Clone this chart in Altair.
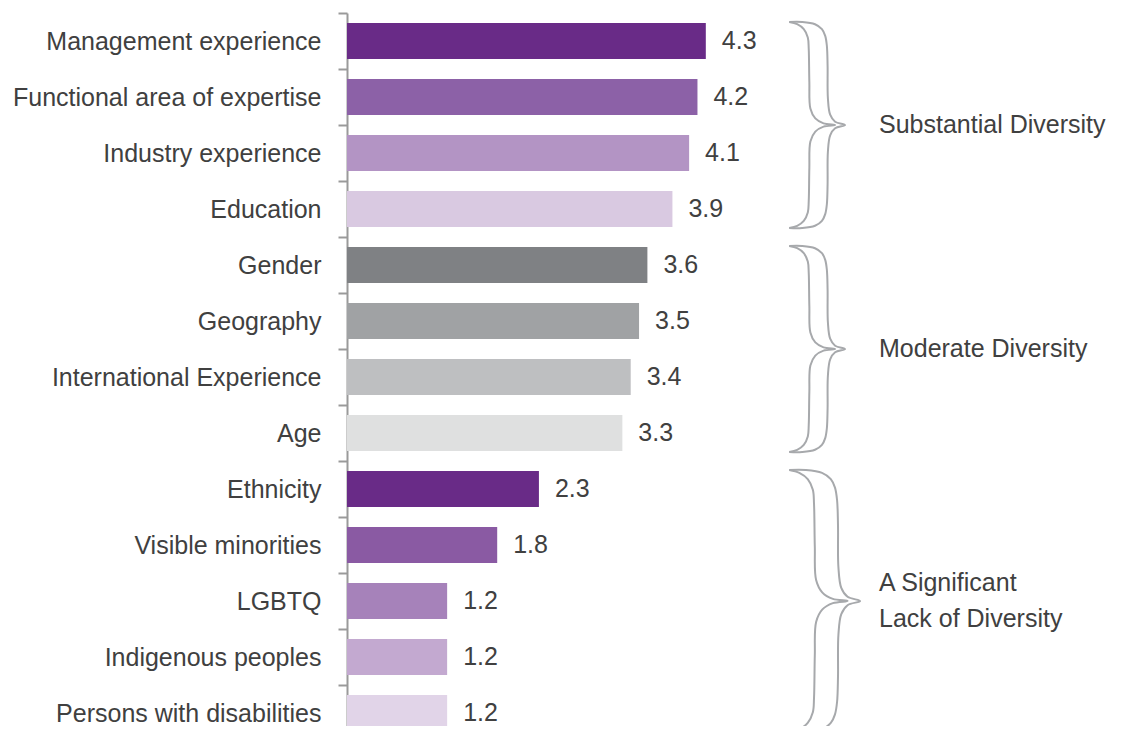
import altair as alt
import pandas as pd

categories = [
    "Management experience", "Functional area of expertise", "Industry experience", "Education",
    "Gender", "Geography", "International Experience", "Age",
    "Ethnicity", "Visible minorities", "LGBTQ", "Indigenous peoples", "Persons with disabilities",
]
values = [4.3, 4.2, 4.1, 3.9, 3.6, 3.5, 3.4, 3.3, 2.3, 1.8, 1.2, 1.2, 1.2]
colors = [
    "#692B87", "#8C61A7", "#B394C4", "#D9C9E1",
    "#7F8184", "#A0A2A4", "#BEBFC1", "#DFE0E0",
    "#692B87", "#8A5AA3", "#A682BA", "#C3A9D0", "#E1D4E8",
]
group_labels = ["Substantial Diversity", "Moderate Diversity", "A Significant\nLack of Diversity"]
group_start = [0, 4, 8]
group_end = [4, 8, 13]

# normalised brace outline (upper half; u to the right, v downward, both in half-heights)
BRACE_OUTER_U = [0, 0.125, 0.25, 0.317, 0.349, 0.365, 0.372, 0.375, 0.397, 0.445, 0.541]
BRACE_OUTER_V = [0, 0.0, 0.022, 0.07, 0.135, 0.231, 0.423, 0.74, 0.90, 0.968, 1.0]
BRACE_INNER_U = [0, 0.077, 0.141, 0.18, 0.189, 0.195, 0.205, 0.253, 0.333, 0.445]
BRACE_INNER_V = [0, 0.022, 0.07, 0.151, 0.26, 0.584, 0.84, 0.936, 0.984, 1.0]

STEP = 56
N = len(categories)
XMAX = 9
XW = 751
XPX = XW / XMAX
FONT = "Liberation Sans, Arial"
FS = 25
TXT = "#404040"
LH = 36
BRACE_X0 = 5.3
INSET = 0.16

df = pd.DataFrame({"cat": categories, "val": values, "label": [f"{v:.1f}" for v in values]})
mids = [(s + e) / 2 for s, e in zip(group_start, group_end)]
nlines = [lab.count("\n") + 1 for lab in group_labels]
gdf = pd.DataFrame({
    "label": group_labels,
    "labely": [m - (n - 1) * LH / 2 / STEP for m, n in zip(mids, nlines)],
})

rows = []
for g, (s, e) in enumerate(zip(group_start, group_end)):
    mid = (s + e) / 2
    half = (e - s) / 2 - INSET
    hpx = half * STEP
    for name, us, vs in (("outer", BRACE_OUTER_U, BRACE_OUTER_V), ("inner", BRACE_INNER_U, BRACE_INNER_V)):
        pts = list(zip(us, vs)) + [(u, 2 - v) for u, v in reversed(list(zip(us, vs))[:-1])]
        for i, (u, v) in enumerate(pts):
            rows.append({
                "key": f"{g}-{name}",
                "order": i,
                "bx": BRACE_X0 + u * hpx / XPX,
                "by": mid - half + v * half,
            })
bdf = pd.DataFrame(rows)

xscale = alt.Scale(domain=[0, XMAX], range=[0, XW], nice=False)
yband = alt.Scale(domain=categories, range=[0, STEP * N], paddingInner=0, paddingOuter=0)

base = alt.Chart(df)
bars = base.mark_bar(height=alt.RelativeBandSize(0.64)).encode(
    x=alt.X("val:Q", scale=xscale, axis=None),
    y=alt.Y("cat:N", sort=None, scale=yband, title=None,
            axis=alt.Axis(tickBand="extent", tickSize=9, tickWidth=2, tickColor="#9A9A9A",
                          domainColor="#9A9A9A", domainWidth=2, labelFont=FONT, labelFontSize=FS,
                          labelColor=TXT, labelPadding=17, labelLimit=400, grid=False)),
    color=alt.Color("cat:N", scale=alt.Scale(domain=categories, range=colors), legend=None),
)
vals = base.mark_text(align="left", baseline="middle", dx=16, font=FONT, fontSize=FS, color=TXT).encode(
    x=alt.X("val:Q", scale=xscale),
    y=alt.Y("cat:N", sort=None, scale=yband),
    text="label:N",
)
left = alt.layer(bars, vals)

yq = alt.Scale(domain=[0, N], range=[0, STEP * N], nice=False, zero=False)
braces = alt.Chart(bdf).mark_line(
    color="#A7A9AC", strokeWidth=2, interpolate="catmull-rom",
).encode(
    x=alt.X("bx:Q", scale=xscale),
    y=alt.Y("by:Q", scale=yq, axis=None),
    detail="key:N",
    order="order:Q",
)
glabels = alt.Chart(gdf).mark_text(
    align="left", baseline="middle", font=FONT, fontSize=FS, color=TXT, lineBreak="\n", lineHeight=LH,
).encode(
    x=alt.value(532),
    y=alt.Y("labely:Q", scale=yq, axis=None),
    text="label:N",
)
right = alt.layer(braces, glabels)

chart = alt.layer(left, right).resolve_scale(y="independent").properties(
    width=XW, height=713,
    padding={"left": 339, "top": 5, "right": 20, "bottom": 0},
    autosize=alt.AutoSizeParams(type="none"),
).configure_view(stroke=None, clip=False)

chart.save("out.html", embed_options={"renderer": "svg", "actions": False})
